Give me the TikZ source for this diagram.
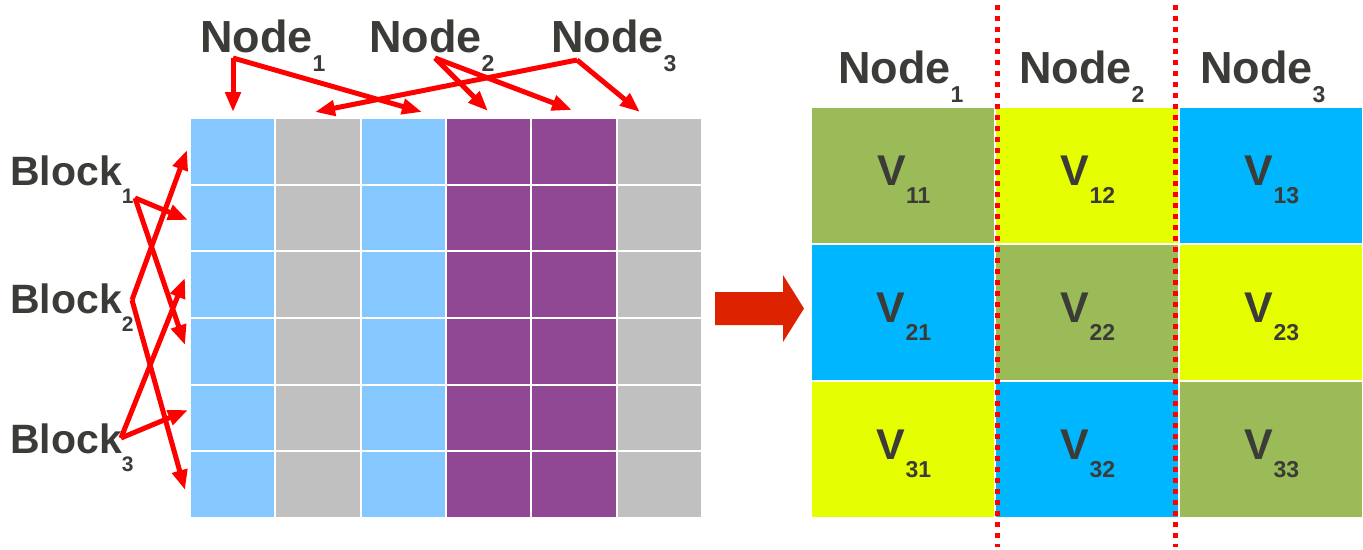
\documentclass[tikz,border=0pt]{standalone}
\usepackage{fontspec}
\setmainfont{Liberation Sans}
\usetikzlibrary{arrows.meta}
\definecolor{lb}{RGB}{132,200,255}
\definecolor{gy}{RGB}{192,192,192}
\definecolor{pu}{RGB}{144,72,148}
\definecolor{gn}{RGB}{155,187,89}
\definecolor{ye}{RGB}{230,255,0}
\definecolor{bl}{RGB}{0,183,255}
\definecolor{arrred}{RGB}{255,0,0}
\definecolor{bigred}{RGB}{221,34,0}
\definecolor{txt}{RGB}{59,59,56}
\newcommand{\sbb}[3]{\raisebox{-#1}{\fontsize{#2}{#2}\selectfont #3}}
\begin{document}
\begin{tikzpicture}[x=1pt,y=-1pt,
  lcell/.style={inner sep=0, minimum width=83.3pt, minimum height=64.7pt},
  rcell/.style={inner sep=0, minimum width=182pt, minimum height=135pt},
  nodelab/.style={inner sep=0, anchor=base west, text=txt, font=\fontsize{45}{45}\selectfont\bfseries},
  blocklab/.style={inner sep=0, anchor=base west, text=txt, font=\fontsize{41}{41}\selectfont\bfseries},
  vlab/.style={inner sep=0, anchor=base, text=txt, font=\fontsize{43}{43}\selectfont\bfseries},
  redarr/.style={draw=arrred, line width=5pt, -{Triangle[length=20pt,width=15pt]}},
  dotline/.style={draw=arrred, line width=5pt, dash pattern=on 5pt off 6pt}]
\useasboundingbox (0,0) rectangle (1363,549);
% left grid
\foreach \c/\col in {1/lb,2/gy,3/lb,4/pu,5/pu,6/gy}
  \foreach \r in {1,...,6}
    \node[lcell, fill=\col] (L\r\c) at ({190+(\c-0.5)*85.333},{118+(\r-0.5)*66.667}) {};
% right grid
\foreach \r/\ca/\cb/\cc in {1/gn/ye/bl,2/bl/gn/ye,3/ye/bl/gn}{
  \node[rcell, fill=\ca] (R\r1) at ({811+0.5*184},{107+(\r-0.5)*137}) {};
  \node[rcell, fill=\cb] (R\r2) at ({811+1.5*184},{107+(\r-0.5)*137}) {};
  \node[rcell, fill=\cc] (R\r3) at ({811+2.5*184},{107+(\r-0.5)*137}) {};
}
\foreach \r in {1,2,3}
  \foreach \c in {1,2,3}
    \node[vlab] (V\r\c) at ({812+(\c-0.5)*184},{185+(\r-1)*137}) {V\sbb{18pt}{23}{\r\c}};
% top labels left
\node[nodelab] (N1) at (200,52) {Node\sbb{19pt}{23}{1}};
\node[nodelab] (N2) at (369,52) {Node\sbb{19pt}{23}{2}};
\node[nodelab] (N3) at (551,52) {Node\sbb{19pt}{23}{3}};
% top labels right
\node[nodelab] (M1) at (838,83) {Node\sbb{19pt}{23}{1}};
\node[nodelab] (M2) at (1019,83) {Node\sbb{19pt}{23}{2}};
\node[nodelab] (M3) at (1200,83) {Node\sbb{19pt}{23}{3}};
% block labels
\node[blocklab] (B1) at (10,185) {Block\sbb{18pt}{21}{1}};
\node[blocklab] (B2) at (10,313) {Block\sbb{18pt}{21}{2}};
\node[blocklab] (B3) at (10,453) {Block\sbb{18pt}{21}{3}};
% arrow coordinates
\coordinate (n1s) at (233,58);
\coordinate (n2s) at (435,58);
\coordinate (n3s) at (577,60);
\coordinate (t1) at (233,112);
\coordinate (t2) at (315,112);
\coordinate (t3) at (422,112);
\coordinate (t4) at (488,111);
\coordinate (t5) at (572,110);
\coordinate (t6) at (640,112);
\coordinate (b1s) at (135,198);
\coordinate (b2s) at (132,300);
\coordinate (b3s) at (121,438);
\coordinate (u1) at (187,150);
\coordinate (u2) at (188,220);
\coordinate (u3) at (185,278);
\coordinate (u4) at (185,345);
\coordinate (u5) at (188,410);
\coordinate (u6) at (185,490);
\draw[redarr] (n1s) -- (t1);
\draw[redarr] (n1s) -- (t3);
\draw[redarr] (n2s) -- (t4);
\draw[redarr] (n2s) -- (t5);
\draw[redarr] (n3s) -- (t2);
\draw[redarr] (n3s) -- (t6);
\draw[redarr] (b1s) -- (u2);
\draw[redarr] (b1s) -- (u4);
\draw[redarr] (b2s) -- (u1);
\draw[redarr] (b2s) -- (u6);
\draw[redarr] (b3s) -- (u5);
\draw[redarr] (b3s) -- (u3);
% big arrow
\fill[bigred] (715,292) -- (783,292) -- (783,275) -- (804,308.5) -- (783,342) -- (783,325) -- (715,325) -- cycle;
% dotted separators
\coordinate (d1a) at (997,5);
\coordinate (d1b) at (997,547);
\coordinate (d2a) at (1175,5);
\coordinate (d2b) at (1175,547);
\draw[dotline] (d1a) -- (d1b);
\draw[dotline] (d2a) -- (d2b);
\end{tikzpicture}
\end{document}
